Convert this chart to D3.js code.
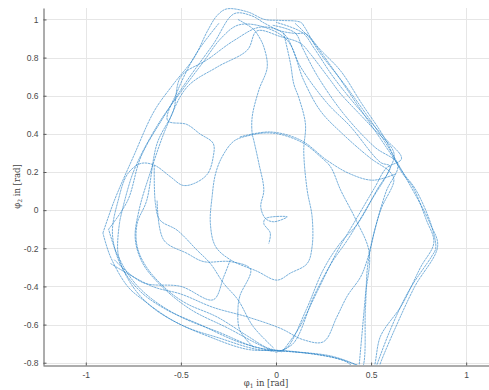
<!DOCTYPE html>
<html>
<head>
<meta charset="utf-8">
<script src="https://cdn.jsdelivr.net/npm/d3@7"></script>
<style>
  html, body { margin: 0; padding: 0; background: #fff; }
  svg { display: block; }
</style>
</head>
<body>
<div id="chart"></div>
<script>
// tick values of both axes
const xTicks = [-1, -0.5, 0, 0.5, 1]
const yTicks = [-0.8, -0.6, -0.4, -0.2, 0, 0.2, 0.4, 0.6, 0.8, 1]

// trajectory pieces [phi1, phi2]
const loop1 = [[-0.91,-0.12],[-0.85,0.05],[-0.75,0.28],[-0.64,0.52],[-0.54,0.66],[-0.43,0.80],[-0.36,0.94],[-0.31,1.02],[-0.26,1.055],[-0.15,1.04],[-0.06,1.0],[0.02,0.995],[0.13,0.985],[0.15,0.96],[0.22,0.84],[0.375,0.64],[0.567,0.367],[0.69,0.157],[0.81,-0.07],[0.85,-0.19],[0.73,-0.40],[0.64,-0.59],[0.55,-0.80],[0.53,-0.86],[0.47,-0.83],[0.29,-0.77],[0.02,-0.737],[-0.15,-0.73],[-0.36,-0.66],[-0.54,-0.58],[-0.70,-0.47],[-0.78,-0.40],[-0.87,-0.245],[-0.91,-0.12]]
const loop2 = [[-0.88,-0.10],[-0.78,0.05],[-0.71,0.28],[-0.59,0.49],[-0.467,0.68],[-0.33,0.87],[-0.22,1.03],[-0.13,1.02],[-0.06,0.98],[0.024,0.94],[0.11,0.926],[0.155,0.926],[0.234,0.84],[0.34,0.73],[0.45,0.56],[0.57,0.38],[0.66,0.2],[0.72,0.12],[0.79,-0.05],[0.83,-0.17],[0.76,-0.30],[0.66,-0.50],[0.55,-0.66],[0.50,-0.85],[0.42,-0.81],[0.29,-0.765],[0.10,-0.742],[-0.10,-0.72],[-0.30,-0.64],[-0.50,-0.56],[-0.66,-0.46],[-0.76,-0.36],[-0.84,-0.22],[-0.88,-0.10]]
const loop3 = [[0.02,-0.74],[0.06,-0.72],[0.16,-0.52],[0.25,-0.31],[0.34,-0.17],[0.43,-0.07],[0.53,0.105],[0.60,0.23],[0.55,0.25],[0.39,0.44],[0.27,0.56],[0.13,0.75],[0.04,0.926],[-0.08,0.96],[-0.22,0.89],[-0.36,0.79],[-0.50,0.70],[-0.54,0.52],[-0.625,0.35],[-0.68,0.05],[-0.73,-0.07],[-0.73,-0.19],[-0.68,-0.30],[-0.57,-0.42],[-0.47,-0.49],[-0.31,-0.56],[-0.15,-0.66],[-0.05,-0.72],[0.02,-0.74]]
const loop4 = [[0.0,-0.745],[0.09,-0.70],[0.20,-0.45],[0.29,-0.28],[0.38,-0.15],[0.50,0.05],[0.59,0.20],[0.62,0.30],[0.50,0.44],[0.34,0.61],[0.287,0.68],[0.18,0.82],[0.13,0.874],[0.024,0.91],[-0.10,0.94],[-0.15,0.84],[-0.31,0.75],[-0.467,0.646],[-0.57,0.45],[-0.66,0.20],[-0.72,0.0],[-0.74,-0.15],[-0.70,-0.28],[-0.60,-0.40],[-0.45,-0.52],[-0.25,-0.62],[-0.10,-0.70],[0.0,-0.745]]
const loop5 = [[-0.82,-0.05],[-0.75,0.20],[-0.62,0.45],[-0.50,0.62],[-0.38,0.78],[-0.29,0.90],[-0.20,0.97],[-0.08,0.965],[0.06,0.89],[0.146,0.68],[0.234,0.52],[0.35,0.40],[0.50,0.27],[0.60,0.20],[0.62,0.157],[0.55,0.0],[0.50,-0.19],[0.48,-0.31],[0.47,-0.52],[0.445,-0.84],[0.36,-0.79],[0.20,-0.755],[0.05,-0.74],[-0.10,-0.73],[-0.30,-0.67],[-0.48,-0.61],[-0.65,-0.51],[-0.76,-0.39],[-0.83,-0.23],[-0.82,-0.05]]
const innerLoop = [[0.04,0.93],[0.076,0.77],[0.094,0.66],[0.12,0.59],[0.155,0.45],[0.146,0.31],[0.164,0.105],[0.19,-0.035],[0.19,-0.19],[0.164,-0.28],[0.076,-0.33],[0.006,-0.367],[-0.10,-0.32],[-0.24,-0.26],[-0.318,-0.19],[-0.345,-0.07],[-0.336,0.07],[-0.318,0.19],[-0.283,0.28],[-0.22,0.363],[-0.134,0.393],[-0.046,0.405],[0.04,0.393],[0.146,0.35],[0.234,0.28],[0.287,0.227],[0.34,0.105],[0.42,-0.05],[0.49,-0.22],[0.47,-0.45],[0.435,-0.84]]
const innerArc = [[-0.19,0.384],[-0.03,0.41],[0.13,0.367],[0.27,0.26],[0.39,0.19],[0.51,0.157],[0.63,0.19]]
const centreLine = [[-0.2,1.0],[-0.12,0.95],[-0.09,0.91],[-0.064,0.856],[-0.046,0.75],[-0.09,0.63],[-0.125,0.49],[-0.125,0.40],[-0.117,0.367],[-0.09,0.245],[-0.064,0.105],[-0.08,0.017],[-0.055,-0.044],[-0.012,-0.061],[0.059,-0.035],[-0.055,-0.044],[-0.064,-0.07],[-0.03,-0.12],[-0.038,-0.175]]
const leftLoop = [[-0.30,0.98],[-0.42,0.82],[-0.52,0.62],[-0.57,0.47],[-0.47,0.45],[-0.40,0.40],[-0.33,0.35],[-0.33,0.28],[-0.36,0.19],[-0.43,0.14],[-0.49,0.13],[-0.555,0.175],[-0.64,0.236],[-0.71,0.245],[-0.78,0.19],[-0.83,0.05],[-0.86,-0.12],[-0.82,-0.28],[-0.72,-0.42],[-0.58,-0.52],[-0.40,-0.60],[-0.20,-0.69],[-0.02,-0.74]]
const leftBranch = [[-0.64,0.236],[-0.634,0.035],[-0.61,-0.052],[-0.52,-0.105],[-0.415,-0.21],[-0.345,-0.28],[-0.275,-0.384],[-0.20,-0.47],[-0.12,-0.61],[-0.01,-0.725]]
const lowerCross = [[-0.87,-0.28],[-0.65,-0.40],[-0.5,-0.44],[-0.33,-0.51],[-0.15,-0.56],[0.024,-0.62],[0.145,-0.68],[0.25,-0.69],[0.32,-0.56],[0.375,-0.45],[0.445,-0.35],[0.48,-0.26],[0.52,-0.10],[0.58,0.10],[0.64,0.24],[0.52,0.33],[0.36,0.50],[0.22,0.70],[0.14,0.85],[0.10,0.93],[-0.02,0.97]]
const midLeft = [[-0.625,0.05],[-0.59,-0.157],[-0.467,-0.227],[-0.38,-0.27],[-0.24,-0.27],[-0.134,-0.31],[-0.19,-0.45],[-0.20,-0.52],[-0.19,-0.63],[-0.117,-0.72]]
const vPath = [[-0.85,-0.26],[-0.70,-0.38],[-0.50,-0.40],[-0.33,-0.47],[-0.275,-0.35],[-0.24,-0.26]]
const rightEdge = [[0.10,0.98],[0.18,0.90],[0.30,0.74],[0.45,0.52],[0.60,0.30],[0.68,0.18],[0.72,0.13],[0.76,0.06],[0.82,-0.09],[0.84,-0.20],[0.82,-0.24],[0.70,-0.42],[0.60,-0.63],[0.52,-0.84]]
const diagonal = [[0.03,-0.745],[0.12,-0.62],[0.22,-0.42],[0.32,-0.22],[0.42,-0.05],[0.52,0.12],[0.58,0.22],[0.66,0.27],[0.57,0.38],[0.42,0.55],[0.30,0.70],[0.20,0.85],[0.14,0.93],[0.0,0.985]]

const paths = [loop1, loop2, loop3, loop4, loop5, innerLoop, innerArc, centreLine,
               leftLoop, leftBranch, lowerCross, midLeft, vPath, rightEdge, diagonal]

const width = 489
const height = 390
const margin = { top: 8, right: 0, bottom: 25, left: 43 }

const svg = d3.select("#chart")
              .append("svg")
              .attr("width", width)
              .attr("height", height)

// x and y scales
const x = d3.scaleLinear()
            .domain([-1.225, 1.12])
            .range([margin.left, width - margin.right])

const y = d3.scaleLinear()
            .domain([-0.812, 1.06])
            .range([height - margin.bottom, margin.top])

// grid
svg.append("g")
   .attr("stroke", "#e6e6e6")
   .attr("stroke-width", 1)
   .call(g => g.selectAll("line.gx")
               .data(xTicks)
               .join("line")
               .attr("class", "gx")
               .attr("x1", d => Math.round(x(d)) + 0.5)
               .attr("x2", d => Math.round(x(d)) + 0.5)
               .attr("y1", y.range()[1])
               .attr("y2", y.range()[0]))
   .call(g => g.selectAll("line.gy")
               .data(yTicks)
               .join("line")
               .attr("class", "gy")
               .attr("x1", x.range()[0])
               .attr("x2", x.range()[1])
               .attr("y1", d => Math.round(y(d)) + 0.5)
               .attr("y2", d => Math.round(y(d)) + 0.5))

svg.append("clipPath")
   .attr("id", "plot-area")
   .append("rect")
   .attr("x", x.range()[0])
   .attr("y", y.range()[1])
   .attr("width", x.range()[1] - x.range()[0])
   .attr("height", y.range()[0] - y.range()[1])

const line = d3.line()
               .x(d => x(d[0]))
               .y(d => y(d[1]))
               .curve(d3.curveCatmullRom.alpha(0.5))

svg.append("g")
   .attr("clip-path", "url(#plot-area)")
   .attr("fill", "none")
   .attr("stroke", "#2b83c6")
   .attr("stroke-width", 0.75)
   .attr("stroke-opacity", 0.85)
   .attr("stroke-dasharray", "2.5 0.6")
   .selectAll("path")
   .data(paths)
   .join("path")
   .attr("d", line)

// matlab style labels: -1, -0.5, 0 ...
const fmt = d => String(d)

// axes, ticks pointing inwards like matlab
const xAxis = g => g.attr("transform", `translate(0,${y.range()[0] + 0.5})`)
                    .call(d3.axisBottom(x).tickValues(xTicks).tickFormat(fmt).tickSize(-3).tickPadding(6).tickSizeOuter(0))

const yAxis = g => g.attr("transform", `translate(${x.range()[0] + 0.5},0)`)
                    .call(d3.axisLeft(y).tickValues(yTicks).tickFormat(fmt).tickSize(-3).tickPadding(5).tickSizeOuter(0))

for (const ax of [xAxis, yAxis]) {
  svg.append("g")
     .call(ax)
     .call(g => g.selectAll(".domain, .tick line").attr("stroke", "#5a5a5a"))
     .call(g => g.selectAll("text")
                 .attr("fill", "#4a4a4a")
                 .attr("font-family", "Liberation Sans, Arial, sans-serif")
                 .attr("font-size", 8.5))
}

// axis labels
svg.append("text")
   .attr("x", (x.range()[0] + x.range()[1]) / 2)
   .attr("y", 386)
   .attr("text-anchor", "middle")
   .attr("font-family", "DejaVu Serif, serif")
   .attr("font-size", 8.5)
   .attr("fill", "#444")
   .html("φ<tspan font-size='6' dy='2'>1</tspan><tspan dy='-2'> in [rad]</tspan>")

svg.append("text")
   .attr("transform", `translate(20,${(y.range()[0] + y.range()[1]) / 2}) rotate(-90)`)
   .attr("text-anchor", "middle")
   .attr("font-family", "DejaVu Serif, serif")
   .attr("font-size", 8.5)
   .attr("fill", "#444")
   .html("φ<tspan font-size='6' dy='2'>2</tspan><tspan dy='-2'> in [rad]</tspan>")
</script>
</body>
</html>
